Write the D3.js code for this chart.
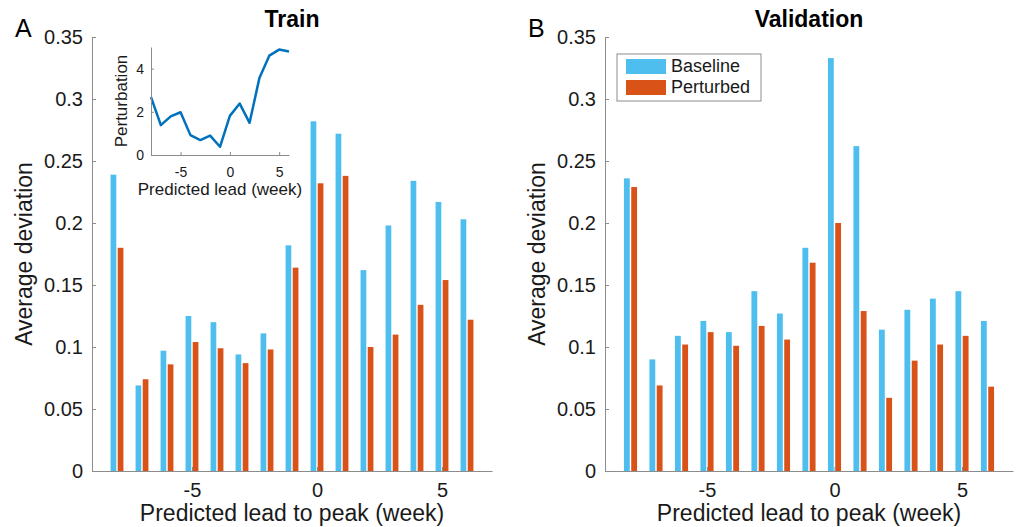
<!DOCTYPE html>
<html>
<head>
<meta charset="utf-8">
<script src="https://cdn.jsdelivr.net/npm/d3@7"></script>
<style>
  body { margin: 0; background: #fff; }
  text { font-family: Helvetica, "Liberation Sans", Arial, sans-serif; fill: #1a1a1a; }
  .axis path, .axis line { stroke: #8c8c8c; }
</style>
</head>
<body>
<svg id="fig" width="1019" height="527"></svg>
<script>
(function(){
  'use strict';

  // data
  var leads = [-8, -7, -6, -5, -4, -3, -2, -1, 0, 1, 2, 3, 4, 5, 6];
  var trainBaseline  = [0.239, 0.069, 0.097, 0.125, 0.120, 0.094, 0.111, 0.182, 0.282, 0.272, 0.162, 0.198, 0.234, 0.217, 0.203];
  var trainPerturbed = [0.180, 0.074, 0.086, 0.104, 0.099, 0.087, 0.098, 0.164, 0.232, 0.238, 0.100, 0.110, 0.134, 0.154, 0.122];
  var valBaseline    = [0.236, 0.090, 0.109, 0.121, 0.112, 0.145, 0.127, 0.180, 0.333, 0.262, 0.114, 0.130, 0.139, 0.145, 0.121];
  var valPerturbed   = [0.229, 0.069, 0.102, 0.112, 0.101, 0.117, 0.106, 0.168, 0.200, 0.129, 0.059, 0.089, 0.102, 0.109, 0.068];
  var perturbation   = [2.68, 1.38, 1.79, 1.98, 0.92, 0.69, 0.90, 0.38, 1.81, 2.38, 1.49, 3.57, 4.60, 4.88, 4.79];
  var seriesNames = ['Baseline', 'Perturbed'];
  var yTicks = [0, 0.05, 0.1, 0.15, 0.2, 0.25, 0.3, 0.35];
  var xTicks = [-5, 0, 5];
  var insetYTicks = [0, 2, 4];

  var colors = ['#4DBEEE', '#D95319'];
  var svg = d3.select('#fig');

  addPanel({left: 92, right: 492, top: 37, bottom: 471},
    'A', 'Train', [trainBaseline, trainPerturbed], false);
  addPanel({left: 605, right: 1013, top: 37, bottom: 471},
    'B', 'Validation', [valBaseline, valPerturbed], true);
  addInset({left: 151, right: 289, top: 47, bottom: 155});

  function fmt(d) {
    return d === 0 ? '0' : String(+d.toFixed(2));
  }

  function addPanel(box, letter, title, series, legend) {
    var g = svg.append('g');

    var x = d3.scaleLinear().domain([-9, 7]).range([box.left, box.right]);
    var y = d3.scaleLinear().domain([0, 0.35]).range([box.bottom, box.top]);

    // MATLAB style grouped bars: 2 series
    var groupW = 2 / 3.5, barW = groupW / 2 * 0.8;
    var offs = [-groupW / 4, groupW / 4];

    series.forEach(function(vals, s) {
      g.selectAll('.bar' + s)
        .data(vals)
        .enter()
        .append('rect')
        .attr('x', function(d, i) { return x(leads[i] + offs[s] - barW / 2); })
        .attr('width', function() { return x(barW) - x(0); })
        .attr('y', function(d) { return y(d); })
        .attr('height', function(d) { return y(0) - y(d); })
        .style('fill', colors[s]);
    });

    g.append('g')
      .attr('class', 'axis')
      .attr('transform', 'translate(0,' + box.bottom + ')')
      .call(d3.axisBottom(x).tickValues(xTicks).tickSizeInner(-4).tickSizeOuter(0).tickPadding(12)
        .tickFormat(function(d){ return d; }))
      .call(function(a) { a.selectAll('text').style('font-size', '20px').attr('fill', '#1a1a1a'); });

    g.append('g')
      .attr('class', 'axis')
      .attr('transform', 'translate(' + box.left + ',0)')
      .call(d3.axisLeft(y).tickValues(yTicks).tickSizeInner(-4).tickSizeOuter(0).tickPadding(9)
        .tickFormat(fmt))
      .call(function(a) { a.selectAll('text').style('font-size', '20px').attr('fill', '#1a1a1a'); });

    var cx = (box.left + box.right) / 2;

    g.append('text')
      .attr('x', cx).attr('y', 27)
      .attr('text-anchor', 'middle')
      .style('font-size', '23px').style('font-weight', 'bold')
      .style('fill', '#000')
      .text(title);

    g.append('text')
      .attr('x', box.left - 77).attr('y', 37)
      .style('font-size', '25px')
      .style('fill', '#000')
      .text(letter);

    g.append('text')
      .attr('x', cx).attr('y', 521)
      .attr('text-anchor', 'middle')
      .style('font-size', '23px')
      .text('Predicted lead to peak (week)');

    g.append('text')
      .attr('transform', 'translate(' + (box.left - 60) + ',' + ((box.top + box.bottom) / 2) + ') rotate(-90)')
      .attr('text-anchor', 'middle')
      .style('font-size', '23px')
      .text('Average deviation');

    if (legend) {
      var lg = g.append('g').attr('transform', 'translate(' + (box.left + 12) + ',54)');
      lg.append('rect')
        .attr('x', 0).attr('y', 0).attr('width', 144).attr('height', 47)
        .style('fill', '#fff').style('stroke', '#8c8c8c').style('stroke-width', 1);
      seriesNames.forEach(function(name, s) {
        lg.append('rect')
          .attr('x', 9).attr('y', 5 + s * 21).attr('width', 40).attr('height', 15)
          .style('fill', colors[s]);
        lg.append('text')
          .attr('x', 54).attr('y', 18 + s * 21)
          .style('font-size', '18px')
          .text(name);
      });
    }
  }

  function addInset(box) {
    var g = svg.append('g');
    var x = d3.scaleLinear().domain([-8, 6]).range([box.left, box.right]);
    var y = d3.scaleLinear().domain([0, 5]).range([box.bottom, box.top]);

    g.append('rect')
      .attr('x', box.left).attr('y', box.top)
      .attr('width', box.right - box.left).attr('height', box.bottom - box.top)
      .style('fill', '#fff');

    var line = d3.line()
      .x(function(d, i) { return x(leads[i]); })
      .y(function(d) { return y(d); });

    g.append('path')
      .datum(perturbation)
      .attr('d', line)
      .style('fill', 'none')
      .style('stroke', '#0072BD')
      .style('stroke-width', 2.5)
      .style('stroke-linejoin', 'round');

    g.append('g')
      .attr('class', 'axis')
      .attr('transform', 'translate(0,' + box.bottom + ')')
      .call(d3.axisBottom(x).tickValues(xTicks).tickSizeInner(-3).tickSizeOuter(0).tickPadding(12)
        .tickFormat(function(d){ return d; }))
      .call(function(a) { a.selectAll('text').style('font-size', '14px').attr('fill', '#1a1a1a'); });

    g.append('g')
      .attr('class', 'axis')
      .attr('transform', 'translate(' + box.left + ',0)')
      .call(d3.axisLeft(y).tickValues(insetYTicks).tickSizeInner(-3).tickSizeOuter(0).tickPadding(7)
        .tickFormat(function(d){ return d; }))
      .call(function(a) { a.selectAll('text').style('font-size', '14px').attr('fill', '#1a1a1a'); });

    g.append('text')
      .attr('x', (box.left + box.right) / 2).attr('y', 195)
      .attr('text-anchor', 'middle')
      .style('font-size', '17px')
      .text('Predicted lead (week)');

    g.append('text')
      .attr('transform', 'translate(' + (box.left - 24) + ',' + ((box.top + box.bottom) / 2) + ') rotate(-90)')
      .attr('text-anchor', 'middle')
      .style('font-size', '17px')
      .text('Perturbation');
  }

}());
</script>
</body>
</html>
